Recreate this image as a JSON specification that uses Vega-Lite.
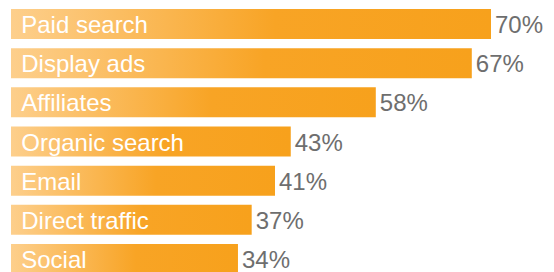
{
  "$schema": "https://vega.github.io/schema/vega-lite/v6.json",
  "autosize": "none",
  "width": 480,
  "height": 283,
  "padding": {"top": 0, "left": 11, "right": 63, "bottom": 0},
  "background": "white",
  "config": {"view": {"stroke": null}},
  "data": {"values": [
    {"channel": "Paid search", "barLength": 70, "pct": "70%"},
    {"channel": "Display ads", "barLength": 67.2, "pct": "67%"},
    {"channel": "Affiliates", "barLength": 53.2, "pct": "58%"},
    {"channel": "Organic search", "barLength": 40.8, "pct": "43%"},
    {"channel": "Email", "barLength": 38.5, "pct": "41%"},
    {"channel": "Direct traffic", "barLength": 35.1, "pct": "37%"},
    {"channel": "Social", "barLength": 33.1, "pct": "34%"}
  ]},
  "encoding": {
    "y": {"field": "channel", "type": "nominal", "sort": null, "axis": null,
          "scale": {"paddingInner": 0.235, "paddingOuter": 0.23}},
    "x": {"field": "barLength", "type": "quantitative", "axis": null,
          "scale": {"domain": [0, 70], "nice": false, "zero": true}}
  },
  "layer": [
    {"mark": {"type": "bar", "fill": {"gradient": "linear", "x1": 0, "x2": 1, "y1": 0, "y2": 0,
      "stops": [{"offset": 0, "color": "#FDCF8C"}, {"offset": 0.55, "color": "#F8A425"}, {"offset": 1, "color": "#F7A11C"}]}}},
    {"mark": {"type": "text", "align": "left", "baseline": "middle", "dx": 4, "dy": 2, "font": "Liberation Sans", "fontSize": 24, "color": "#6E6E6E"},
     "encoding": {"text": {"field": "pct"}}},
    {"mark": {"type": "text", "align": "left", "baseline": "middle", "dx": 2, "dy": 2, "font": "Liberation Sans", "fontSize": 24, "color": "white"},
     "encoding": {"text": {"field": "channel"}, "x": {"datum": 1.2, "type": "quantitative"}}}
  ]
}
